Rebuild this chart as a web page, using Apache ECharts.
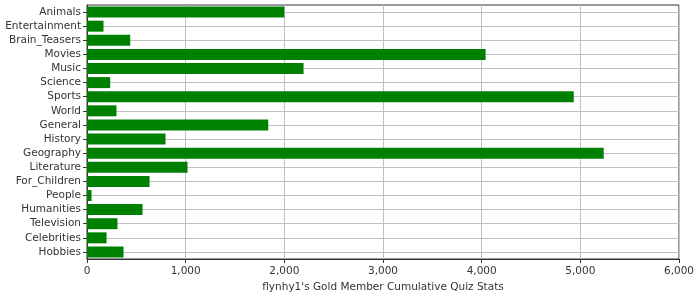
<!DOCTYPE html>
<html><head><meta charset="utf-8">
<script src="https://cdn.jsdelivr.net/npm/echarts@6/dist/echarts.min.js"></script>
<style>html,body{margin:0;padding:0;background:#fff}#c{width:700px;height:300px}</style>
</head><body><div id="c"></div>
<script>
const categories = ['Animals','Entertainment','Brain_Teasers','Movies','Music','Science','Sports','World','General','History','Geography','Literature','For_Children','People','Humanities','Television','Celebrities','Hobbies'];
const values = [2000,167,438,4040,2195,235,4933,299,1837,796,5237,1019,634,46,563,309,198,370];
const xTicks = {min:0, max:6000, interval:1000};
const axisTitle = "flynhy1's Gold Member Cumulative Quiz Stats";

const chart = echarts.init(document.getElementById('c'), null, {renderer:'canvas'});
const font = 'DejaVu Sans';
chart.setOption({
  animation:false,
  grid:{left:87, top:5, width:592, height:254, show:true, borderColor:'#333', borderWidth:1, backgroundColor:'transparent'},
  xAxis:{type:'value', min:xTicks.min, max:xTicks.max, interval:xTicks.interval,
    name:axisTitle, nameLocation:'middle', nameGap:23,
    nameTextStyle:{fontFamily:font, fontSize:10.5, color:'#333'},
    axisLine:{show:true, lineStyle:{color:'#333'}},
    axisTick:{show:true, length:4, lineStyle:{color:'#333'}},
    axisLabel:{fontFamily:font, fontSize:10.5, color:'#333', margin:7,
      formatter:v=>v.toLocaleString('en-US')},
    splitLine:{show:true, lineStyle:{color:'#c0c0c0', width:1}}
  },
  yAxis:{type:'category', data:categories, inverse:true,
    axisLine:{show:true, lineStyle:{color:'#333'}, onZero:false},
    axisTick:{show:true, alignWithLabel:true, interval:0, length:4, lineStyle:{color:'#333'}},
    axisLabel:{fontFamily:font, fontSize:10.5, color:'#333', margin:6, interval:0},
    splitLine:{show:false}
  },
  series:[
    {type:'line', data:[], z:0, silent:true,
      markLine:{silent:true, z:0, zlevel:0, symbol:'none', label:{show:false}, animation:false,
        lineStyle:{color:'#c0c0c0', width:1, type:'solid'},
        data:categories.map(c=>({yAxis:c}))}},
    {type:'bar', data:values, barCategoryGap:'22%', itemStyle:{color:'#008000'}, z:3}
  ]
});
</script></body></html>
